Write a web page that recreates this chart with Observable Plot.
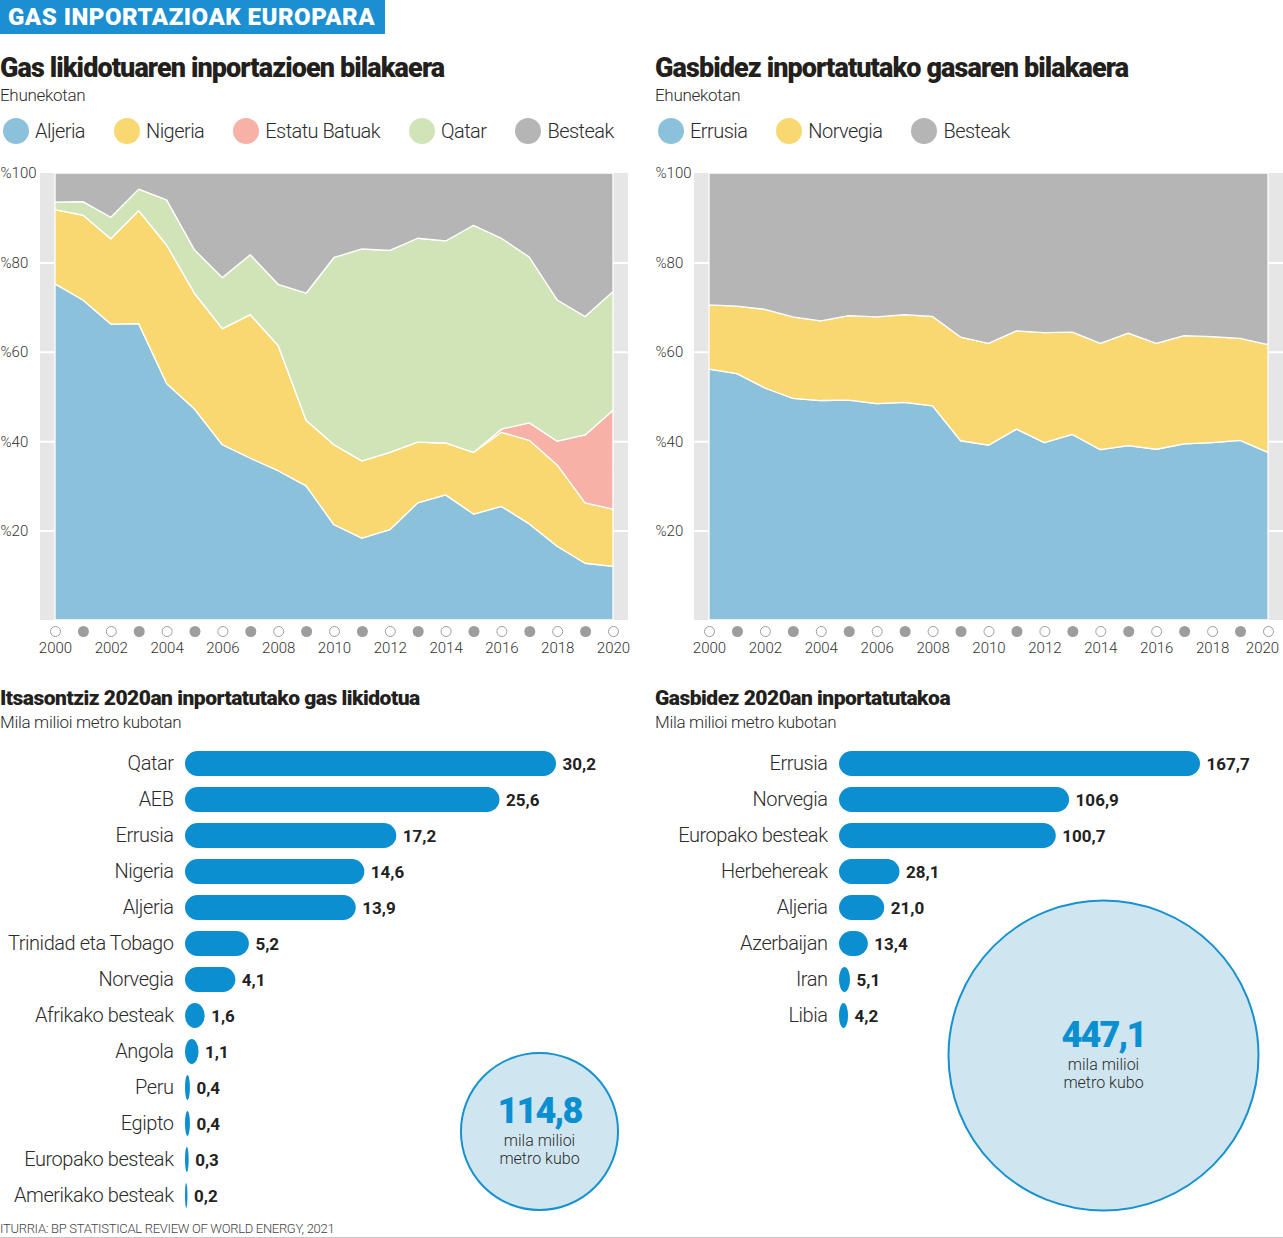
<!DOCTYPE html>
<html><head><meta charset="utf-8">
<script src="https://cdn.jsdelivr.net/npm/d3@7"></script>
<script src="https://cdn.jsdelivr.net/npm/@observablehq/plot@0.6"></script>
<style>
body{margin:0;background:#fff;font-family:Roboto,"Open Sans",sans-serif;color:#2b2b2b}
#root{position:relative;width:1283px;height:1238px;overflow:hidden;background:#fff}
.abs{position:absolute;white-space:nowrap}
.header{left:0;top:0;width:385px;height:34px;background:#1b8fd2;color:#fff;font-weight:900;font-size:24px;line-height:35px;padding-left:8px;box-sizing:border-box;letter-spacing:0.5px}
.title{font-weight:900;font-size:27px;line-height:30px;letter-spacing:-0.9px;color:#231f1c}
.btitle{font-weight:900;font-size:21px;line-height:24px;letter-spacing:-0.5px;color:#231f1c}
.sub{font-size:17px;line-height:20px;font-weight:300;letter-spacing:-0.3px;color:#2b2b2b}
.legend{display:flex;align-items:center;font-size:20px;font-weight:300;letter-spacing:-0.55px;height:26px;color:#2b2b2b}
.legend .sw{display:inline-block;width:26px;height:26px;border-radius:50%;margin-right:6px}
.legend .it{display:flex;align-items:center;margin-right:29px}
.footer{font-size:13px;line-height:14px;font-weight:300;letter-spacing:-0.3px;color:#444}
.rule{left:0;top:1237px;width:1283px;height:1px;background:#c8c8c8}
svg{position:absolute}
</style>
</head><body>
<div id="root">
  <div class="abs header">GAS INPORTAZIOAK EUROPARA</div>
  <div class="abs title" style="left:0;top:53px">Gas likidotuaren inportazioen bilakaera</div>
  <div class="abs sub" style="left:0;top:85px">Ehunekotan</div>
  <div class="abs legend" id="leg1" style="left:3px;top:118px"></div>
  <div class="abs title" style="left:655px;top:53px">Gasbidez inportatutako gasaren bilakaera</div>
  <div class="abs sub" style="left:655px;top:85px">Ehunekotan</div>
  <div class="abs legend" id="leg2" style="left:658px;top:118px"></div>
  <div class="abs btitle" style="left:0;top:686px">Itsasontziz 2020an inportatutako gas likidotua</div>
  <div class="abs sub" style="left:0;top:712px">Mila milioi metro kubotan</div>
  <div class="abs btitle" style="left:655px;top:686px">Gasbidez 2020an inportatutakoa</div>
  <div class="abs sub" style="left:655px;top:712px">Mila milioi metro kubotan</div>
  <div class="abs footer" style="left:0;top:1222px">ITURRIA: BP STATISTICAL REVIEW OF WORLD ENERGY, 2021</div>
  <div class="abs rule"></div>
</div>
<script>
// ---------- DATA ----------
const years = [2000,2001,2002,2003,2004,2005,2006,2007,2008,2009,2010,2011,2012,2013,2014,2015,2016,2017,2018,2019,2020];

// LNG imports share (%), stacked bottom to top
const lngSeries = ["Aljeria","Nigeria","Estatu Batuak","Qatar","Besteak"];
const lngColors = ["#8cc1dc","#f9d872","#f7b1a7","#d0e4b8","#b5b5b5"];
const lngAljeria = [75.2,71.6,66.2,66.3,52.9,47.2,39.2,36.2,33.4,30.0,21.3,18.3,20.2,26.2,28.0,23.7,25.4,21.5,16.5,12.7,12.0];
const lngNigeria = [16.6,19.0,19.1,25.3,31.0,25.9,26.0,32.1,28.0,14.7,17.9,17.3,17.3,13.6,11.6,13.8,16.6,18.7,18.2,13.5,12.8];
const lngUSA     = [0,0,0,0,0,0,0,0,0,0,0,0,0,0,0,0,0.7,3.9,5.3,15.2,22.1];
const lngQatar   = [1.7,3.0,4.8,4.8,10.1,9.7,11.4,13.4,13.7,28.4,41.9,47.4,45.2,45.6,45.2,50.8,42.7,37.1,31.6,26.5,26.6];
const lngOthers  = [6.5,6.4,9.9,3.6,6.0,17.2,23.4,18.3,24.9,26.9,18.9,17.0,17.3,14.6,15.2,11.7,14.6,18.8,28.4,32.1,26.5];

// Pipeline imports share (%)
const pipeSeries = ["Errusia","Norvegia","Besteak"];
const pipeColors = ["#8cc1dc","#f9d872","#b5b5b5"];
const pipeRussia = [56.1,55.1,51.9,49.6,49.1,49.2,48.4,48.7,47.9,40.1,39.1,42.7,39.7,41.5,38.1,39.0,38.2,39.4,39.7,40.2,37.5];
const pipeNorway = [14.4,15.1,17.6,18.2,17.8,18.9,19.4,19.6,20.0,23.2,22.8,22.0,24.6,22.9,23.8,25.2,23.7,24.2,23.7,22.8,24.1];
const pipeOthers = [29.5,29.8,30.5,32.2,33.1,31.9,32.2,31.7,32.1,36.7,38.1,35.3,35.7,35.6,38.1,35.8,38.1,36.4,36.6,37.0,38.4];

const yTicks = [20,40,60,80,100];

// 2020 LNG by ship (bcm)
const lngCountries = ["Qatar","AEB","Errusia","Nigeria","Aljeria","Trinidad eta Tobago","Norvegia","Afrikako besteak","Angola","Peru","Egipto","Europako besteak","Amerikako besteak"];
const lngValues = [30.2,25.6,17.2,14.6,13.9,5.2,4.1,1.6,1.1,0.4,0.4,0.3,0.2];

// 2020 pipeline (bcm)
const pipeCountries = ["Errusia","Norvegia","Europako besteak","Herbehereak","Aljeria","Azerbaijan","Iran","Libia"];
const pipeValues = [167.7,106.9,100.7,28.1,21.0,13.4,5.1,4.2];

const unitText = ["mila milioi","metro kubo"];

// ---------- HELPERS ----------
const root = document.getElementById("root");
const FONT = "Roboto, 'Open Sans', sans-serif";
const fmt = v => v.toFixed(1).replace(".", ",");

function place(el, left, top) {
  el.style.position = "absolute";
  el.style.left = left + "px";
  el.style.top = top + "px";
  root.appendChild(el);
}
function spacing(svg, desc, px) {
  d3.select(svg).selectAll(`g[aria-description="${desc}"] text`).style("letter-spacing", px + "px");
}

function legend(id, names, colors) {
  const el = document.getElementById(id);
  names.forEach((n, i) => {
    const it = document.createElement("div");
    it.className = "it";
    it.innerHTML = `<span class="sw" style="background:${colors[i]}"></span><span>${n}</span>`;
    el.appendChild(it);
  });
}
legend("leg1", lngSeries, lngColors);
legend("leg2", pipeSeries, pipeColors);

function areaChart(names, values, colors, width, mL, mR, labelDx, lastDx) {
  const data = names.flatMap((s, i) => years.map((y, j) => ({year: y, series: s, value: values[i][j]})));
  const even = years.filter(y => y % 2 === 0);
  const odd = years.filter(y => y % 2 === 1);
  const last = even[even.length - 1];
  const tickText = {frameAnchor: "bottom", dy: 32, text: d => String(d), fontSize: 15, fontWeight: 300, fill: "#333"};
  return Plot.plot({
    width, height: 500, marginLeft: mL, marginRight: mR, marginTop: 13, marginBottom: 40,
    style: {fontFamily: FONT, background: "transparent", overflow: "visible"},
    x: {domain: [years[0], years[years.length - 1]], axis: null},
    y: {domain: [0, 100], axis: null},
    color: {domain: names, range: colors},
    marks: [
      Plot.rect([{x1: years[0], x2: years[years.length - 1], y1: 0, y2: 100}],
        {x1: "x1", x2: "x2", y1: "y1", y2: "y2", insetLeft: -15, insetRight: -15, fill: "#e6e6e6"}),
      Plot.ruleY(yTicks.slice(0, -1), {stroke: "white", strokeWidth: 2, insetLeft: -15, insetRight: -15}),
      Plot.areaY(data, {x: "year", y: "value", fill: "series", z: "series", order: names, stroke: "white", strokeWidth: 1.3}),
      Plot.text(yTicks, {y: d => d, text: d => "%" + d, frameAnchor: "left", textAnchor: "start", dx: labelDx, fontSize: 15, fontWeight: 300, fill: "#333"}),
      Plot.dot(even, {x: d => d, frameAnchor: "bottom", dy: 11, r: 5, fill: "white", stroke: "#9d9d9d", strokeWidth: 1}),
      Plot.dot(odd, {x: d => d, frameAnchor: "bottom", dy: 11, r: 5.5, fill: "#9d9d9d", stroke: "none"}),
      Plot.text(even.filter(y => y !== last), {x: d => d, ...tickText}),
      Plot.text([last], {x: d => d, ...tickText, dx: lastDx})
    ]
  });
}

const a1 = areaChart(lngSeries, [lngAljeria, lngNigeria, lngUSA, lngQatar, lngOthers], lngColors, 640, 55, 27, -55, 0);
place(a1, 0, 160);
const a2 = areaChart(pipeSeries, [pipeRussia, pipeNorway, pipeOthers], pipeColors, 643, 69, 15, -54, -6);
place(a2, 640, 160);

function barChart(names, values, width, mL, mR) {
  const data = names.map((n, i) => ({name: n, value: values[i]}));
  const step = 36;
  const svg = Plot.plot({
    width, height: names.length * step + 12, marginLeft: mL, marginRight: mR, marginTop: 6, marginBottom: 6,
    style: {fontFamily: FONT, background: "transparent", overflow: "visible"},
    x: {domain: [0, d3.max(values)], axis: null},
    y: {domain: names, paddingInner: 0.3, paddingOuter: 0.15, axis: null},
    marks: [
      Plot.barX(data, {y: "name", x: "value", fill: "#0b8fd1", rx: 12.5, ry: 12.5}),
      Plot.text(data, {y: "name", text: "name", frameAnchor: "left", textAnchor: "end", dx: -12, fontSize: 20, fontWeight: 300, fill: "#2b2b2b", ariaDescription: "country"}),
      Plot.text(data, {y: "name", x: "value", text: d => fmt(d.value), textAnchor: "start", dx: 6, dy: 1, fontSize: 17, fontWeight: 700, fill: "#222"})
    ]
  });
  spacing(svg, "country", -0.45);
  return svg;
}

const b1 = barChart(lngCountries, lngValues, 640, 185, 84);
place(b1, 0, 740);
const b2 = barChart(pipeCountries, pipeValues, 643, 199, 83);
place(b2, 640, 740);

const totalLng = d3.sum(lngValues);
const totalPipe = d3.sum(pipeValues);
const maxTotal = Math.max(totalLng, totalPipe);

function bubble(total, size) {
  const svg = Plot.plot({
    width: size, height: size, margin: 0,
    style: {fontFamily: FONT, background: "transparent", overflow: "visible"},
    r: {type: "sqrt", domain: [0, maxTotal], range: [0, 155]},
    marks: [
      Plot.dot([total], {frameAnchor: "middle", r: d => d, fill: "#cfe6f1", stroke: "#1791cf", strokeWidth: 2}),
      Plot.text([total], {frameAnchor: "middle", text: d => fmt(d), dy: -20, fontSize: 36, fontWeight: 900, fill: "#0b8fd1", ariaDescription: "total"}),
      Plot.text([unitText[0]], {frameAnchor: "middle", text: d => d, dy: 9, fontSize: 16, fontWeight: 300, fill: "#2b2b2b"}),
      Plot.text([unitText[1]], {frameAnchor: "middle", text: d => d, dy: 27, fontSize: 16, fontWeight: 300, fill: "#2b2b2b"})
    ]
  });
  spacing(svg, "total", -1.8);
  return svg;
}
place(bubble(totalLng, 170), 539 - 85, 1131 - 85);
place(bubble(totalPipe, 320), 1103 - 160, 1055 - 160);
</script>
</body></html>
